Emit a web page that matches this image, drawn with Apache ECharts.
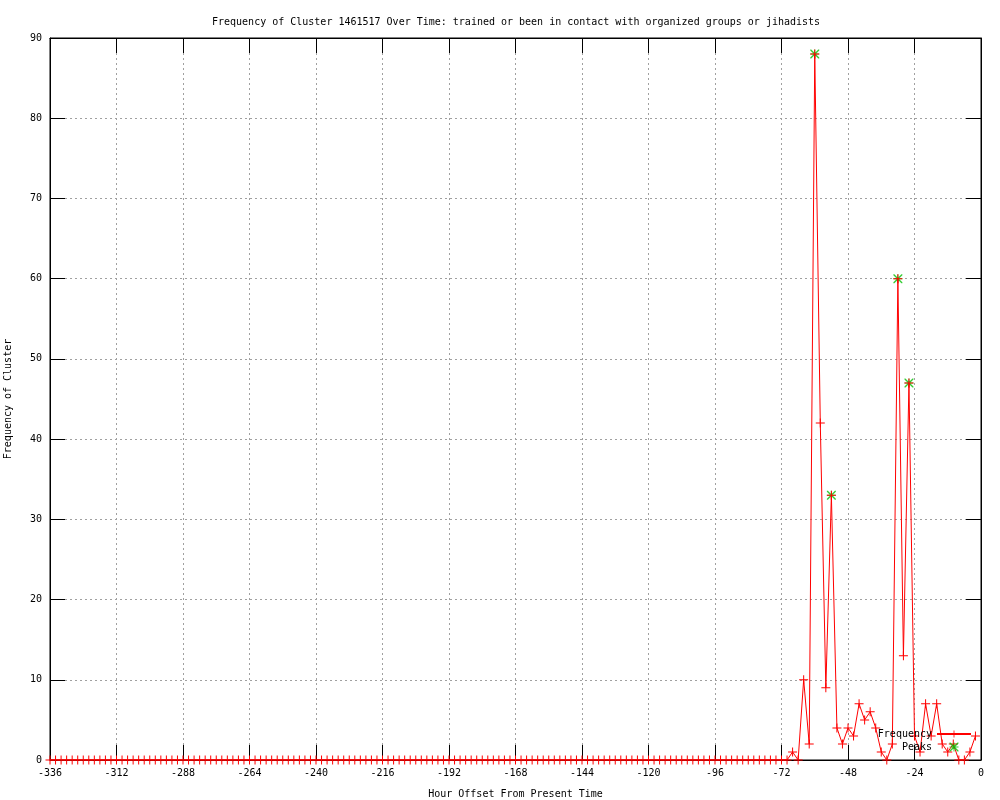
<!DOCTYPE html>
<html>
<head>
<meta charset="utf-8">
<script src="https://cdn.jsdelivr.net/npm/echarts@6/dist/echarts.min.js"></script>
<style>html,body{margin:0;padding:0;background:#fff;}#c{width:1000px;height:800px;}</style>
</head>
<body>
<div id="c"></div>
<script>
// Hour offsets: every 2 hours from -336 to -2
const hourStart = -336, hourStep = 2;
// Frequency values (one per hour offset)
const frequency = [
  0,0,0,0,0,0,0,0,0,0, 0,0,0,0,0,0,0,0,0,0,
  0,0,0,0,0,0,0,0,0,0, 0,0,0,0,0,0,0,0,0,0,
  0,0,0,0,0,0,0,0,0,0, 0,0,0,0,0,0,0,0,0,0,
  0,0,0,0,0,0,0,0,0,0, 0,0,0,0,0,0,0,0,0,0,
  0,0,0,0,0,0,0,0,0,0, 0,0,0,0,0,0,0,0,0,0,
  0,0,0,0,0,0,0,0,0,0, 0,0,0,0,0,0,0,0,0,0,
  0,0,0,0,0,0,0,0,0,0, 0,0,
  // -72 .. -2
  0,0,1,0,10,2,88,42,9,33,
  4,2,4,3,7,5,6,4,1,0,
  2,60,13,47,3,1,7,3,7,2,
  1,2,0,0,1,3
];
const hours = frequency.map((_, i) => hourStart + i * hourStep);
// Peaks
const peakHours = [-60, -54, -30, -26];
const peakValues = [88, 33, 60, 47];

const xTicks = { min: -336, max: 0, interval: 24 };
const yTicks = { min: 0, max: 90, interval: 10 };

const FONT = 'DejaVu Sans Mono';
const plusPath = 'path://M4,0h1v4h4v1h-4v4h-1v-4h-4v-1h4z';
const starPath = 'path://M4,0h1v4h4v1h-4v4h-1v-4h-4v-1h4z M0,0h1l8,8v1h-1l-8,-8z M8,0h1v1l-8,8h-1v-1z';

const chart = echarts.init(document.getElementById('c'), null, { renderer: 'canvas' });
const axisCommon = {
  axisLine: { show: true, onZero: false, lineStyle: { color: '#000', width: 1 } },
  axisTick: { show: true, inside: true, length: 15, lineStyle: { color: '#000', width: 1 } },
};
chart.setOption({
  animation: false,
  backgroundColor: '#fff',
  title: {
    text: 'Frequency of Cluster 1461517 Over Time: trained or been in contact with organized groups or jihadists',
    left: 207, top: 12,
    textStyle: { fontFamily: FONT, fontSize: 10, fontWeight: 'normal', color: '#000' }
  },
  grid: { left: 50, right: 19, top: 38, bottom: 40, containLabel: false, outerBoundsMode: 'none',
          show: true, borderColor: '#000', borderWidth: 1 },
  legend: {
    orient: 'vertical', right: 23, top: 724, align: 'right',
    itemWidth: 34, itemHeight: 9, itemGap: 3,
    textStyle: { fontFamily: FONT, fontSize: 10, color: '#000' },
    data: ['Frequency', 'Peaks']
  },
  xAxis: [{
    type: 'value', gridIndex: 0, min: xTicks.min, max: xTicks.max, interval: xTicks.interval, position: 'bottom',
    name: 'Hour Offset From Present Time', nameLocation: 'middle', nameGap: 29,
    nameTextStyle: { fontFamily: FONT, fontSize: 10, color: '#000' },
    ...axisCommon,
    axisLabel: { fontFamily: FONT, fontSize: 10, color: '#000', margin: 8 },
    splitLine: { show: true, lineStyle: { color: '#a0a0a0', type: [2, 3], width: 1 } }
  }, {
    type: 'value', gridIndex: 0, min: xTicks.min, max: xTicks.max, interval: xTicks.interval, position: 'top', offset: 0,
    ...axisCommon, axisLabel: { show: false }, splitLine: { show: false }
  }],
  yAxis: [{
    type: 'value', gridIndex: 0, min: yTicks.min, max: yTicks.max, interval: yTicks.interval, position: 'left',
    name: 'Frequency of Cluster', nameLocation: 'middle', nameGap: 37,
    nameTextStyle: { fontFamily: FONT, fontSize: 10, color: '#000' },
    ...axisCommon,
    axisLabel: { fontFamily: FONT, fontSize: 10, color: '#000', margin: 8 },
    splitLine: { show: true, lineStyle: { color: '#a0a0a0', type: [2, 3], width: 1 } }
  }, {
    type: 'value', gridIndex: 0, min: yTicks.min, max: yTicks.max, interval: yTicks.interval, position: 'right', offset: 0,
    ...axisCommon, axisLabel: { show: false }, splitLine: { show: false }
  }],
  series: [{
    name: 'Peaks', type: 'scatter', z: 2,
    symbol: starPath, symbolSize: 9,
    itemStyle: { color: '#00c000' },
    data: peakHours.map((h, i) => [h, peakValues[i]])
  }, {
    name: 'Frequency', type: 'line', z: 3,
    symbol: plusPath, symbolSize: 9, showSymbol: true, showAllSymbol: true,
    lineStyle: { color: '#ff0000', width: 1 },
    itemStyle: { color: '#ff0000' },
    data: hours.map((h, i) => [h, frequency[i]])
  }]
});
</script>
</body>
</html>
